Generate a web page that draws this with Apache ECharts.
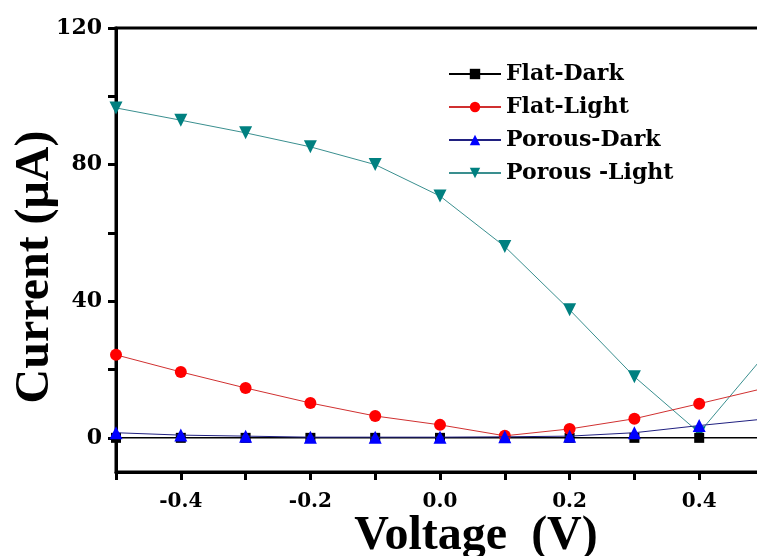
<!DOCTYPE html>
<html><head><meta charset="utf-8">
<script src="https://cdn.jsdelivr.net/npm/echarts@6/dist/echarts.min.js"></script>
<style>html,body{margin:0;padding:0;background:#fff}#c{width:757px;height:556px}</style>
</head><body><div id="c"></div>
<script>
const voltage = [-0.5,-0.4,-0.3,-0.2,-0.1,0.0,0.1,0.2,0.3,0.4,0.5];
const flatDark = [0,0,0,0,0,0,0,0,0,0,0];
const flatLight = [24.3,19.3,14.6,10.2,6.4,3.8,0.6,2.6,5.6,10.0,14.5];
const porousDark = [1.5,0.8,0.5,0.2,0.2,0.2,0.3,0.5,1.5,3.6,5.5];
const porousLight = [96.6,93.0,89.3,85.2,80.0,70.8,56.0,37.5,17.9,1.5,24.0];
const xTicks = [-0.5,-0.4,-0.3,-0.2,-0.1,0.0,0.1,0.2,0.3,0.4,0.5];
const xLabels = [-0.4,-0.2,0.0,0.2,0.4];
const yTicks = [0,20,40,60,80,100,120];
const yLabels = [0,40,80,120];

const FONT = 'DejaVu Serif';
const TFONT = 'Liberation Serif';
function pairs(v){ return voltage.map((x,i)=>[x,v[i]]); }
const chart = echarts.init(document.getElementById('c'));
chart.setOption({
  animation:false,
  backgroundColor:'#fff',
  grid:{left:116,right:-7,top:28,bottom:84,outerBoundsMode:'none',containLabel:false,
    show:true,borderColor:'#000',borderWidth:3,backgroundColor:'transparent'},
  legend:{
    left:443, top:58, orient:'vertical', itemGap:11, itemWidth:52, itemHeight:13,
    textStyle:{fontFamily:FONT,fontWeight:'bold',fontSize:22,color:'#000'},
    data:['Flat-Dark','Flat-Light','Porous-Dark','Porous -Light']
  },
  xAxis:{
    type:'value', min:-0.5, max:0.5,
    name:'Voltage  (V)', nameLocation:'middle', nameGap:41, nameMoveOverlap:false,
    nameTextStyle:{fontFamily:TFONT,fontWeight:'bold',fontSize:48,color:'#000',padding:[0,0,0,72]},
    axisLine:{show:true,onZero:false,lineStyle:{color:'#000',width:3}},
    axisTick:{show:true,length:8,inside:false,lineStyle:{color:'#000',width:3},customValues:xTicks},
    axisLabel:{show:true,margin:20,customValues:xLabels,formatter:v=>Number(v).toFixed(1),
      fontFamily:FONT,fontWeight:'bold',fontSize:20,color:'#000'},
    splitLine:{show:false}
  },
  yAxis:{
    type:'value', min:-10, max:120,
    name:'Current (μA)', nameLocation:'middle', nameGap:56, nameRotate:90, nameMoveOverlap:false,
    nameTextStyle:{fontFamily:TFONT,fontWeight:'bold',fontSize:48,color:'#000',padding:[0,34,0,0]},
    axisLine:{show:true,onZero:false,lineStyle:{color:'#000',width:3}},
    axisTick:{show:true,length:8,inside:false,lineStyle:{color:'#000',width:3},customValues:yTicks},
    axisLabel:{show:true,margin:14,customValues:yLabels,
      fontFamily:FONT,fontWeight:'bold',fontSize:22,color:'#000'},
    splitLine:{show:false}
  },
  series:[
    {name:'Porous -Light',type:'line',data:pairs(porousLight),symbol:'triangle',symbolRotate:180,symbolSize:13,
      lineStyle:{color:'#3a8f8f',width:1},itemStyle:{color:'#008080'},z:2},
    {name:'Flat-Light',type:'line',data:pairs(flatLight),symbol:'circle',symbolSize:12,
      lineStyle:{color:'#d03030',width:1},itemStyle:{color:'#ff0000'},z:3},
    {name:'Flat-Dark',type:'line',data:pairs(flatDark),symbol:'rect',symbolSize:10,
      lineStyle:{color:'#000',width:1.5},itemStyle:{color:'#000'},z:2},
    {name:'Porous-Dark',type:'line',data:pairs(porousDark),symbol:'triangle',symbolSize:13,
      lineStyle:{color:'#202080',width:1},itemStyle:{color:'#0000ff'},z:4}
  ]
});
</script></body></html>
